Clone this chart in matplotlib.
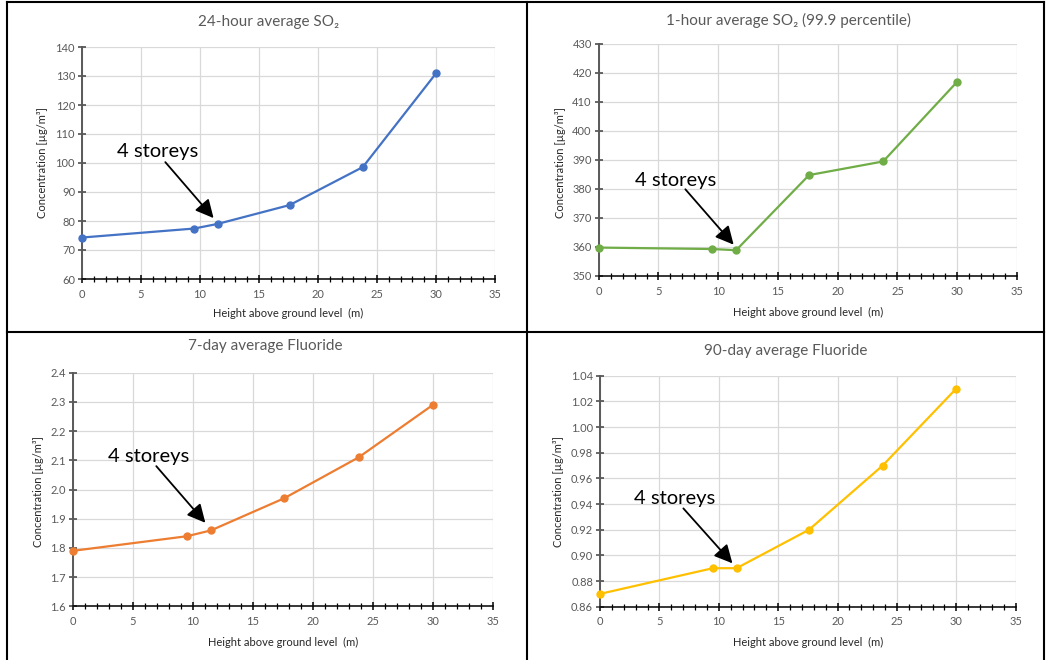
import numpy as np
import matplotlib.pyplot as plt
from matplotlib.ticker import MultipleLocator, FormatStrFormatter

plt.rcParams['font.family'] = ['Lato', 'DejaVu Sans']

# heights (m) shared by all four panels
height = [0, 9.5, 11.5, 17.6, 23.8, 30]

so2_24h = [74.3, 77.4, 79.0, 85.5, 98.6, 130.9]
so2_1h = [359.8, 359.3, 358.9, 384.8, 389.5, 417.0]
fl_7d = [1.79, 1.84, 1.86, 1.97, 2.11, 2.29]
fl_90d = [0.87, 0.89, 0.89, 0.92, 0.97, 1.03]

titles = ['24-hour average SO\u2082', '1-hour average SO\u2082 (99.9 percentile)',
          '7-day average Fluoride', '90-day average Fluoride']
colors = ['#4472C4', '#70AD47', '#ED7D31', '#FFC000']
ylims = [(60, 140), (350, 430), (1.6, 2.4), (0.86, 1.04)]
ysteps = [10, 10, 0.1, 0.02]
yfmts = ['%d', '%d', '%.1f', '%.2f']

# annotation: text position, arrow tail, arrow head (data coords)
notes = [((2.96, 104), (7.06, 100.3), (11.15, 81.0)),
         ((3.07, 383.1), (7.25, 379.9), (11.29, 360.8)),
         ((2.92, 2.112), (6.94, 2.080), (11.03, 1.886)),
         ((2.87, 0.944), (7.02, 0.9366), (11.15, 0.8938))]

W, H = 1047, 660
# axes boxes in pixels: x0, x1, ytop, ybottom
boxes = [(82, 495, 47, 279), (598.7, 1017, 44, 276),
         (73, 493, 372.7, 606.3), (600, 1015.7, 375.7, 606.7)]
title_pos = [(269, 22), (789, 20), (265, 346), (786, 351)]
xlab_pos = [(288, 313), (808, 312), (283, 642), (808, 642)]
ylab_pos = [(43, 163), (560, 163), (38, 492), (559, 492)]

fig = plt.figure(figsize=(W / 100, H / 100), dpi=100)

series = [so2_24h, so2_1h, fl_7d, fl_90d]
for i in range(4):
    x0, x1, yt, yb = boxes[i]
    ax = fig.add_axes([x0 / W, 1 - yb / H, (x1 - x0) / W, (yb - yt) / H])
    ax.plot(height, series[i], '-o', color=colors[i], lw=1.6, ms=5, zorder=3, clip_on=False)
    ax.set_xlim(0, 35)
    ax.set_ylim(*ylims[i])
    ax.xaxis.set_major_locator(MultipleLocator(5))
    ax.xaxis.set_minor_locator(MultipleLocator(1))
    ax.yaxis.set_major_locator(MultipleLocator(ysteps[i]))
    ax.yaxis.set_major_formatter(FormatStrFormatter(yfmts[i]))
    ax.grid(True, which='major', color='#d9d9d9', lw=0.9, zorder=0)
    ax.set_axisbelow(True)
    for s in ['top', 'right']:
        ax.spines[s].set_visible(False)
    ax.spines['bottom'].set_color('black')
    ax.spines['bottom'].set_linewidth(1.1)
    ax.spines['left'].set_color('#595959')
    ax.spines['left'].set_linewidth(1.4)
    ax.tick_params(axis='x', which='major', direction='inout', length=6, width=1.1,
                   color='black', labelsize=8, labelcolor='#595959', pad=4)
    ax.tick_params(axis='x', which='minor', direction='inout', length=4, width=0.9, color='black')
    ax.tick_params(axis='y', which='major', direction='inout', length=6, width=1.1,
                   color='#404040', labelsize=8, labelcolor='#595959', pad=2)
    fig.text(title_pos[i][0] / W, 1 - title_pos[i][1] / H, titles[i], ha='center', va='center',
             fontsize=11, color='#595959')
    fig.text(xlab_pos[i][0] / W, 1 - xlab_pos[i][1] / H, 'Height above ground level  (m)',
             ha='center', va='center', fontsize=8, color='#262626')
    fig.text(ylab_pos[i][0] / W, 1 - ylab_pos[i][1] / H, 'Concentration [\u00b5g/m\u00b3]',
             ha='center', va='center', rotation=90, fontsize=8, color='#262626')
    txt, tail, head = notes[i]
    ax.text(txt[0], txt[1], '4 storeys', fontsize=14.5, ha='left', va='center', color='black')
    ax.annotate('', xy=head, xytext=tail,
                arrowprops=dict(arrowstyle='-|>,head_length=1.1,head_width=0.55',
                                color='black', lw=1.3, shrinkA=0, shrinkB=0))

# table borders around the four charts
frame = dict(color='black', lw=1.5, transform=fig.transFigure, clip_on=False)
fig.add_artist(plt.Line2D([7 / W, 7 / W], [0, 1 - 2 / H], **frame))
fig.add_artist(plt.Line2D([1044 / W, 1044 / W], [0, 1 - 2 / H], **frame))
fig.add_artist(plt.Line2D([527 / W, 527 / W], [0, 1 - 2 / H], **frame))
fig.add_artist(plt.Line2D([7 / W, 1044 / W], [1 - 2 / H, 1 - 2 / H], **frame))
fig.add_artist(plt.Line2D([7 / W, 1044 / W], [1 - 332 / H, 1 - 332 / H], **frame))

fig.savefig('out.png', dpi=100)
